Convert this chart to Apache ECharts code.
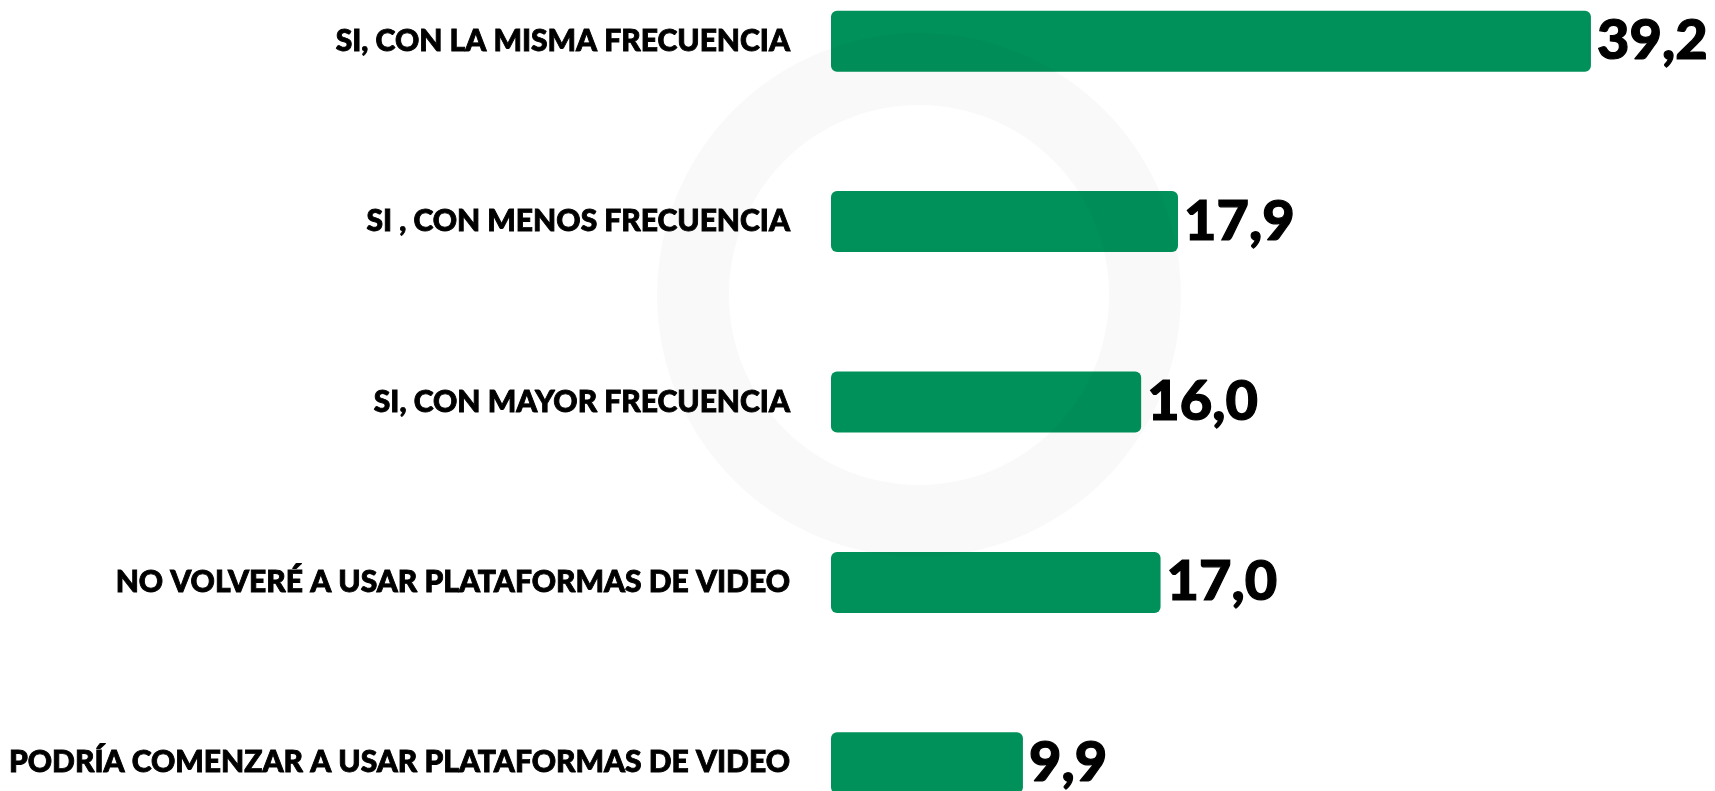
<!DOCTYPE html>
<html><head><meta charset="utf-8">
<script src="https://cdn.jsdelivr.net/npm/echarts@6/dist/echarts.min.js"></script>
<style>html,body{margin:0;padding:0;background:#fff;overflow:hidden;width:1715px;height:791px;position:relative}#c{position:absolute;left:0;top:-49px;width:1715px;height:910px}</style>
</head><body><div id="c"></div>
<script>
const categories = [
  "SI, CON LA MISMA FRECUENCIA",
  "SI , CON MENOS FRECUENCIA",
  "SI, CON MAYOR FRECUENCIA",
  "NO VOLVERÉ A USAR PLATAFORMAS DE VIDEO",
  "PODRÍA COMENZAR A USAR PLATAFORMAS DE VIDEO"
];
const values = [39.2, 17.9, 16.0, 17.0, 9.9];

const chart = echarts.init(document.getElementById('c'));
chart.setOption({
  animation: false,
  backgroundColor: '#ffffff',
  grid: { left: 831, right: 0, top: 0, height: 902, containLabel: false },
  xAxis: { type: 'value', min: 0, max: 45.6, show: false },
  yAxis: {
    type: 'category', inverse: true, data: categories,
    axisLine: { show: false }, axisTick: { show: false },
    axisLabel: { margin: 41, color: '#000', fontFamily: 'Lato', fontWeight: 900, fontSize: 30,
      padding: [4, 0, 0, 0], textBorderColor: '#000', textBorderWidth: 0.9 }
  },
  series: [{
    type: 'bar', data: values, barWidth: 61,
    itemStyle: { color: '#00915A', borderRadius: 6 },
    label: {
      show: true, position: 'right', distance: 6, color: '#000',
      fontFamily: 'Lato', fontWeight: 900, fontSize: 56,
      textBorderColor: '#000', textBorderWidth: 1.2,
      formatter: p => p.value.toFixed(1).replace('.', ',')
    },
    z: 2
  }],
  graphic: [{
    type: 'ring', z: 10, silent: true,
    shape: { cx: 919, cy: 344, r: 262, r0: 190 },
    style: { fill: 'rgba(0,0,0,0.025)' }
  }]
});
</script></body></html>
